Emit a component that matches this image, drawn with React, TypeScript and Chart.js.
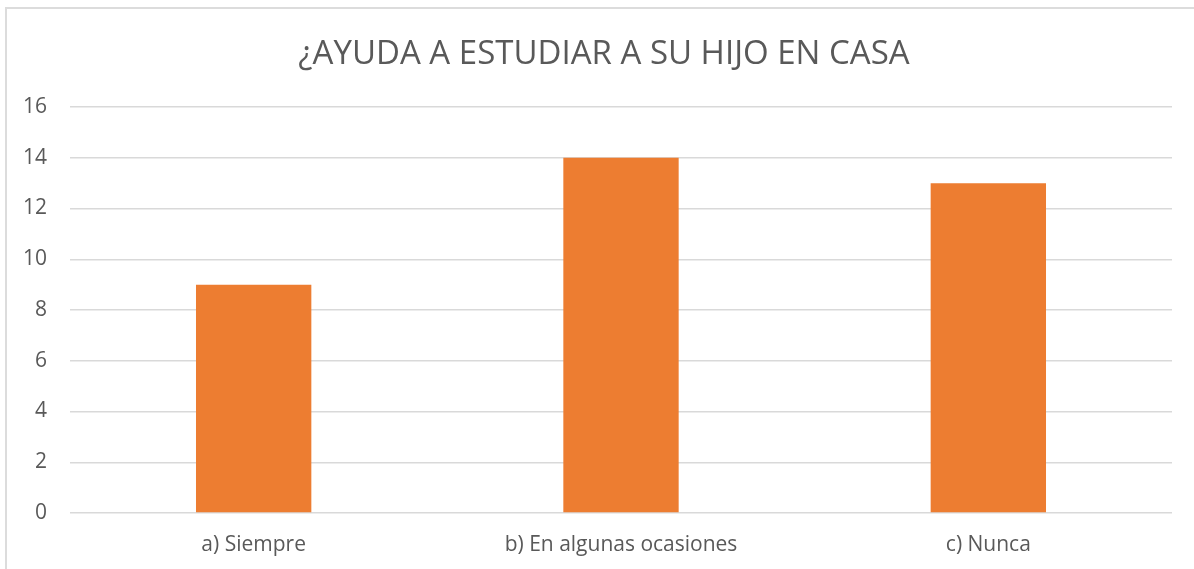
import React, { useEffect, useRef } from "react";
import { Chart, registerables } from "chart.js";

Chart.register(...registerables);

const categories = ["a) Siempre", "b) En algunas ocasiones", "c) Nunca"];
const values = [9, 14, 13];
const titleText = "¿AYUDA A ESTUDIAR A SU HIJO EN CASA";

export default function App() {
  const ref = useRef<HTMLCanvasElement | null>(null);
  useEffect(() => {
    if (!ref.current) return;
    const chart = new Chart(ref.current, {
      type: "bar",
      data: {
        labels: categories,
        datasets: [
          {
            data: values,
            backgroundColor: "#ED7D31",
            borderWidth: 0,
            barPercentage: 0.314,
            categoryPercentage: 1,
          },
        ],
      },
      options: {
        animation: false,
        responsive: false,
        maintainAspectRatio: false,
        layout: { padding: { left: 18, right: 4, top: 0, bottom: 0 } },
        plugins: {
          legend: { display: false },
          tooltip: { enabled: false },
          title: {
            display: true,
            text: titleText,
            color: "#595959",
            font: { family: "'Open Sans'", size: 33, weight: "normal" },
            padding: { top: 35, bottom: 32.4 },
          },
        },
        scales: {
          x: {
            grid: { display: false, drawTicks: false },
            border: { display: false },
            ticks: {
              color: "#595959",
              font: { family: "'Open Sans'", size: 21 },
              padding: 19,
              maxRotation: 0,
            },
            afterFit: (s: any) => {
              s.height = 56;
            },
          },
          y: {
            min: 0,
            max: 16,
            ticks: {
              stepSize: 2,
              color: "#595959",
              font: { family: "'Open Sans'", size: 21 },
              padding: 23,
            },
            grid: { color: "#d9d9d9", lineWidth: 1.5, drawTicks: false },
            border: { display: false },
            afterFit: (s: any) => {
              s.width = 52;
            },
          },
          yRight: {
            position: "right",
            display: true,
            min: 0,
            max: 16,
            ticks: { display: false },
            grid: { display: false, drawTicks: false },
            border: { display: false },
            afterFit: (s: any) => {
              s.width = 18;
            },
          },
        },
      },
    });
    return () => chart.destroy();
  }, []);
  return (
    <div
      style={{
        position: "fixed",
        left: 0,
        top: 0,
        width: 1194,
        height: 569,
        overflow: "hidden",
        background: "#fff",
      }}
    >
      <div
        style={{
          position: "absolute",
          left: 5,
          top: 7,
          width: 1400,
          height: 800,
          border: "2px solid #dcdcdc",
        }}
      />
      <canvas
        ref={ref}
        width={1194}
        height={569}
        style={{ position: "absolute", left: 0, top: 0, width: 1194, height: 569 }}
      />
    </div>
  );
}
